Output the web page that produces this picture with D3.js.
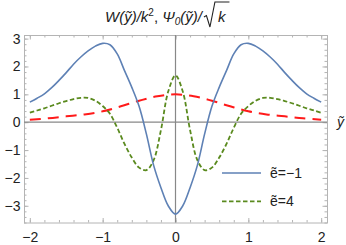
<!DOCTYPE html>
<html>
<head>
<meta charset="utf-8">
<script src="https://cdn.jsdelivr.net/npm/d3@7"></script>
<style>
  body { margin: 0; background: #fff; }
  text { font-family: "Liberation Sans", Arial, sans-serif; }
</style>
</head>
<body>
<div id="chart"></div>
<script>
// W(y)/k^2 for e=-1 (blue, solid)
var wX = [-2, -1.9, -1.8, -1.7, -1.6, -1.5, -1.4, -1.3, -1.2, -1.1, -1, -0.9, -0.8, -0.7, -0.6, -0.5, -0.4, -0.3, -0.2, -0.1, 0,
          0.1, 0.2, 0.3, 0.4, 0.5, 0.6, 0.7, 0.8, 0.9, 1, 1.1, 1.2, 1.3, 1.4, 1.5, 1.6, 1.7, 1.8, 1.9, 2];
var wY = [0.72, 0.86, 1.02, 1.24, 1.5, 1.78, 2.08, 2.34, 2.56, 2.73, 2.83, 2.78, 2.45, 1.85, 1.25, 0.57, -0.42, -1.55, -2.35, -3.0, -3.3,
          -3.0, -2.35, -1.55, -0.42, 0.57, 1.25, 1.85, 2.45, 2.78, 2.83, 2.73, 2.56, 2.34, 2.08, 1.78, 1.5, 1.24, 1.02, 0.86, 0.72];

// W(y)/k^2 for e=4 (green, dashed)
var w4X = [-2, -1.9, -1.8, -1.7, -1.6, -1.5, -1.4, -1.3, -1.2, -1.1, -1, -0.9, -0.8, -0.7, -0.6, -0.5, -0.4, -0.3, -0.2, -0.1, 0,
           0.1, 0.2, 0.3, 0.4, 0.5, 0.6, 0.7, 0.8, 0.9, 1, 1.1, 1.2, 1.3, 1.4, 1.5, 1.6, 1.7, 1.8, 1.9, 2];
var w4Y = [0.34, 0.42, 0.5, 0.59, 0.68, 0.76, 0.83, 0.875, 0.87, 0.77, 0.58, 0.3, -0.2, -0.78, -1.27, -1.63, -1.72, -1.36, -0.28, 1.1, 1.68,
           1.1, -0.28, -1.36, -1.72, -1.63, -1.27, -0.78, -0.2, 0.3, 0.58, 0.77, 0.87, 0.875, 0.83, 0.76, 0.68, 0.59, 0.5, 0.42, 0.34];

// Psi0(y)/sqrt(k) (red, long dashes)
var psiX = [-2, -1.75, -1.5, -1.25, -1, -0.75, -0.5, -0.25, 0, 0.25, 0.5, 0.75, 1, 1.25, 1.5, 1.75, 2];
var psiY = [0.09, 0.14, 0.21, 0.28, 0.39, 0.57, 0.77, 0.93, 1.0, 0.93, 0.77, 0.57, 0.39, 0.28, 0.21, 0.14, 0.09];

var xMajor = [-2, -1, 0, 1, 2];
var yMajor = [-3, -2, -1, 0, 1, 2, 3];
var legendLabels = ["\u1EBD=\u22121", "\u1EBD=4"];

var W = 346, H = 245;
var svg = d3.select("#chart").append("svg")
  .attr("width", W)
  .attr("height", H);

var x = d3.scaleLinear().domain([-2.08, 2.08]).range([24, 327]);
var y = d3.scaleLinear().domain([-3.6, 3.13]).range([222.5, 35]);

var xMinor = d3.range(-2, 2.001, 0.2);
var yMinor = d3.range(-3.6, 3.131, 0.2);

// frame
svg.append("rect")
  .attr("x", x.range()[0] + 0.5)
  .attr("y", y.range()[1] + 0.5)
  .attr("width", x.range()[1] - x.range()[0])
  .attr("height", y.range()[0] - y.range()[1])
  .attr("fill", "none")
  .attr("stroke", "#b4b4b4")
  .attr("stroke-width", 1);

function styleAxis(g) {
  g.select(".domain").remove();
  g.selectAll(".tick line").attr("stroke", "#b4b4b4");
  g.selectAll("text").attr("fill", "#222").attr("font-size", "14px")
    .style("font-family", "'Liberation Sans', Arial, sans-serif");
}

var fmt = d3.format("");
// bottom
svg.append("g").attr("transform", "translate(0," + y.range()[0] + ")")
  .call(d3.axisBottom(x).tickValues(xMinor).tickSize(-2.5).tickFormat(""))
  .call(styleAxis);
svg.append("g").attr("transform", "translate(0," + y.range()[0] + ")")
  .call(d3.axisBottom(x).tickValues(xMajor).tickSize(-4.5).tickPadding(10).tickFormat(fmt))
  .call(styleAxis);
// top
svg.append("g").attr("transform", "translate(0," + y.range()[1] + ")")
  .call(d3.axisTop(x).tickValues(xMinor).tickSize(-2.5).tickFormat(""))
  .call(styleAxis);
svg.append("g").attr("transform", "translate(0," + y.range()[1] + ")")
  .call(d3.axisTop(x).tickValues(xMajor).tickSize(-4.5).tickFormat(""))
  .call(styleAxis);
// left
svg.append("g").attr("transform", "translate(" + x.range()[0] + ",0)")
  .call(d3.axisLeft(y).tickValues(yMinor).tickSize(-2.5).tickFormat(""))
  .call(styleAxis);
svg.append("g").attr("transform", "translate(" + x.range()[0] + ",0)")
  .call(d3.axisLeft(y).tickValues(yMajor).tickSize(-4.5).tickPadding(3.5).tickFormat(fmt))
  .call(styleAxis);
// right
svg.append("g").attr("transform", "translate(" + x.range()[1] + ",0)")
  .call(d3.axisRight(y).tickValues(yMinor).tickSize(-2.5).tickFormat(""))
  .call(styleAxis);
svg.append("g").attr("transform", "translate(" + x.range()[1] + ",0)")
  .call(d3.axisRight(y).tickValues(yMajor).tickSize(-4.5).tickFormat(""))
  .call(styleAxis);

// zero axes
svg.append("line")
  .attr("x1", x.range()[0]).attr("x2", x.range()[1])
  .attr("y1", y(0)).attr("y2", y(0))
  .attr("stroke", "#888").attr("stroke-width", 1.2);
svg.append("line")
  .attr("x1", x(0)).attr("x2", x(0))
  .attr("y1", y.range()[0]).attr("y2", y.range()[1])
  .attr("stroke", "#888").attr("stroke-width", 1.2);

var line = d3.line()
  .x(function(d) { return x(d[0]); })
  .y(function(d) { return y(d[1]); })
  .curve(d3.curveCatmullRom.alpha(0.5));

function zip(a, b) { return a.map(function(v, i) { return [v, b[i]]; }); }

var series = [
  {xs: psiX, ys: psiY, color: "#ff1a1a", width: 2, dash: "11,7"},
  {xs: w4X, ys: w4Y, color: "#5a8a1e", width: 1.8, dash: "4.5,2.5"},
  {xs: wX, ys: wY, color: "#5e81b5", width: 1.6, dash: null}
];

svg.selectAll(".curve")
  .data(series)
  .enter()
  .append("path")
  .attr("class", "curve")
  .attr("d", function(d) { return line(zip(d.xs, d.ys)); })
  .attr("fill", "none")
  .attr("stroke", function(d) { return d.color; })
  .attr("stroke-width", function(d) { return d.width; })
  .attr("stroke-dasharray", function(d) { return d.dash; });

// legend
var legend = svg.append("g").attr("transform", "translate(222,173)");
var legendItems = [series[2], series[1]];
legendItems.forEach(function(s, i) {
  legend.append("line")
    .attr("x1", 0).attr("x2", 39)
    .attr("y1", i * 28.3).attr("y2", i * 28.3)
    .attr("stroke", s.color)
    .attr("stroke-width", s.width)
    .attr("stroke-dasharray", s.dash);
  legend.append("text")
    .attr("x", 48).attr("y", i * 28.3 + 5)
    .attr("font-size", "14px")
    .attr("fill", "#222")
    .text(legendLabels[i]);
});

// axis label
svg.append("text")
  .attr("x", 337).attr("y", 127)
  .attr("font-size", "14px")
  .attr("font-style", "italic")
  .attr("fill", "#222")
  .text("\u1EF9");

// title
var title = svg.append("text")
  .attr("x", 105).attr("y", 22)
  .attr("font-size", "15px")
  .attr("font-style", "italic")
  .attr("fill", "#222");
title.append("tspan").text("W(\u1EF9)/k");
title.append("tspan").attr("font-size", "10px").attr("dy", -6).attr("font-style", "normal").text("2");
title.append("tspan").attr("dy", 6).attr("font-style", "normal").text(", ");
title.append("tspan").text("\u03A8");
title.append("tspan").attr("font-size", "10px").attr("dy", 3).text("0");
title.append("tspan").attr("dy", -3).text("(\u1EF9)/");
title.append("tspan").attr("dx", 16).text("k");

var tn = title.node();
var nc = tn.getNumberOfChars();
var kStart = tn.getStartPositionOfChar(nc - 1).x;
var kEnd = tn.getEndPositionOfChar(nc - 1).x;
var rx = kStart - 14;
svg.append("path")
  .attr("d", "M" + rx + ",17 L" + (rx + 2.5) + ",15.5 L" + (rx + 6) + ",27 L" + (rx + 11) + ",2 L" + (kEnd + 4) + ",2")
  .attr("fill", "none")
  .attr("stroke", "#222")
  .attr("stroke-width", 1.1);
</script>
</body>
</html>
